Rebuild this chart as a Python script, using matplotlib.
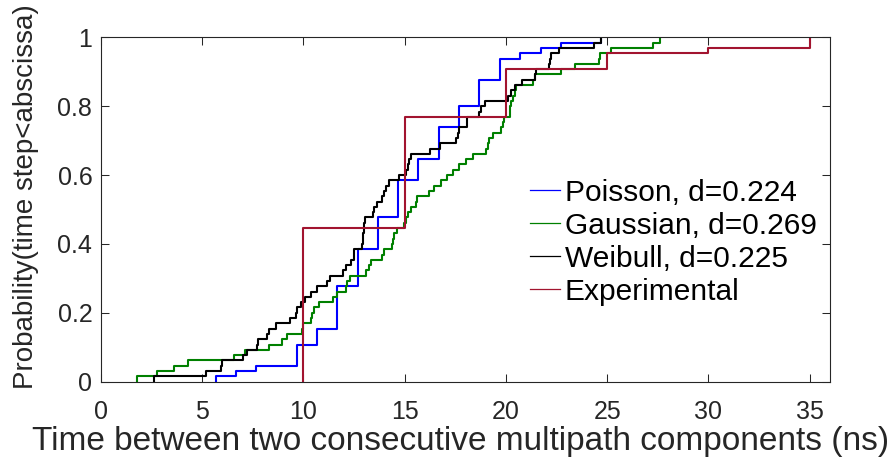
import numpy as np
import matplotlib.pyplot as plt
from matplotlib.lines import Line2D

plt.rcParams['font.family'] = ['Liberation Sans', 'DejaVu Sans']

# experimental: distinct inter-arrival times and how often each occurred
exp_times = [10, 15, 20, 25, 30, 35]
exp_counts = [29, 21, 9, 3, 1, 2]

# poisson fit: distinct sample values and counts
poi_times = [5.68, 6.68, 7.68, 9.71, 10.69, 11.68, 12.72, 13.71, 14.70,
             15.68, 16.71, 17.71, 18.69, 19.72, 20.71, 21.73, 22.71, 24.71]
poi_counts = [1, 1, 1, 4, 3, 8, 7, 6, 7, 4, 6, 4, 5, 4, 1, 1, 1, 1]

# gaussian fit samples
gauss_times = [1.78, 2.80, 3.64, 4.29, 6.57, 7.14, 8.30, 8.96, 9.21, 9.92,
               9.97, 10.36, 10.45, 10.52, 10.77, 11.48, 11.68, 12.09, 12.17, 12.31,
               13.08, 13.25, 13.33, 13.91, 13.99, 14.40, 14.45, 14.49, 14.65, 14.98,
               15.07, 15.15, 15.31, 15.56, 15.61, 16.22, 16.47, 16.80, 17.08, 17.37,
               17.70, 18.03, 18.37, 19.03, 19.11, 19.19, 19.36, 19.74, 19.85, 19.93,
               20.18, 20.22, 20.26, 20.35, 20.43, 20.51, 21.34, 21.45, 22.74, 23.43,
               24.60, 24.67, 25.20, 27.28, 27.62]

# weibull fit samples
weib_times = [2.65, 5.20, 5.96, 5.98, 7.03, 7.23, 7.72, 7.77, 8.22, 8.33,
              8.63, 9.34, 9.62, 9.70, 9.87, 10.08, 10.36, 10.67, 11.15, 11.30,
              11.95, 12.09, 12.34, 12.49, 12.51, 12.92, 12.94, 12.96, 12.99, 13.02,
              13.06, 13.42, 13.50, 13.66, 13.91, 13.99, 14.07, 14.24, 14.73, 15.06,
              15.15, 15.23, 15.31, 16.25, 16.75, 17.54, 17.62, 17.70, 18.06, 18.09,
              18.69, 18.78, 18.98, 20.10, 20.23, 20.43, 20.80, 21.45, 21.50, 22.11,
              22.16, 22.24, 22.60, 24.36, 24.71]

labels = ['Poisson, d=0.224', 'Gaussian, d=0.269', 'Weibull, d=0.225', 'Experimental']
colors = ['#0000ff', '#008000', '#000000', '#a2142f']

xticks = [0, 5, 10, 15, 20, 25, 30, 35]
yticks = [0, 0.2, 0.4, 0.6, 0.8, 1]
ytick_labels = ['0', '0.2', '0.4', '0.6', '0.8', '1']

fig = plt.figure(figsize=(8.95, 4.63), dpi=100)
ax = fig.add_axes([0.1125, 0.1757, 0.8149, 0.7436])

ax.ecdf(poi_times, weights=poi_counts, color=colors[0], lw=1.5)
ax.ecdf(gauss_times, color=colors[1], lw=1.5)
ax.ecdf(weib_times, color=colors[2], lw=1.5)
ax.ecdf(exp_times, weights=exp_counts, color=colors[3], lw=1.5)

ax.set_xlim(0, 36)
ax.set_ylim(0, 1)
ax.set_xticks(xticks)
ax.set_yticks(yticks)
ax.set_yticklabels(ytick_labels)

gray = '#262626'
for s in ax.spines.values():
    s.set_color(gray)
    s.set_linewidth(0.8)
ax.tick_params(direction='in', top=True, right=True, length=5.5, width=0.75,
               colors=gray, labelsize=18, labelcolor=gray)
ax.tick_params(axis='x', pad=13)
ax.tick_params(axis='y', pad=6)

ax.set_xlabel('Time between two consecutive multipath components (ns)',
              fontsize=24, color=gray)
ax.set_ylabel('Probability(time step<abscissa)', fontsize=20, color=gray)
ax.xaxis.set_label_coords(0.494, -0.13)
ax.yaxis.set_label_coords(-0.085, 0.538)

handles = [Line2D([], [], color=c, lw=0.9) for c in colors]
ax.legend(handles, labels, loc='upper left', bbox_to_anchor=(0.589, 0.59),
          frameon=False, fontsize=21.5, handlelength=1.0, handletextpad=0.15,
          labelspacing=0.17, borderpad=0, borderaxespad=0)

fig.savefig('out.png', dpi=100)
